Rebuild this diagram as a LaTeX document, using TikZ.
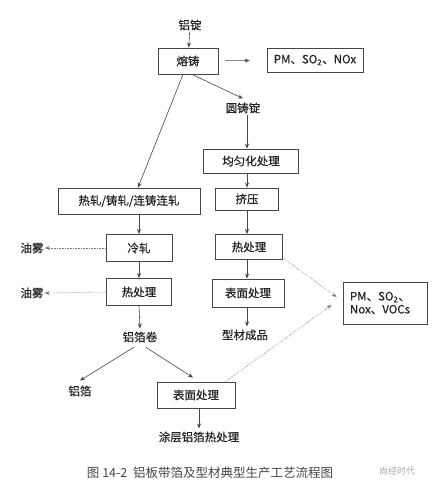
\documentclass[tikz,border=0pt]{standalone}
\usepackage{fontspec}
\setmainfont{Noto Sans CJK SC}
\newfontfamily\flowfont{Noto Sans CJK SC}[FakeBold=0.4]
\usetikzlibrary{arrows.meta,positioning,calc}
\definecolor{flowline}{RGB}{70,70,70}
\definecolor{flowtext}{RGB}{35,35,35}
\definecolor{capgray}{RGB}{70,70,70}
\tikzset{
  pbox/.style={rectangle, draw=flowline, line width=0.8pt, fill=white,
               inner sep=1pt, font=\flowfont\fontsize{11.5}{13}\selectfont, text=flowtext},
  plabel/.style={inner sep=1pt, font=\flowfont\fontsize{11.5}{13}\selectfont, text=flowtext},
  parr/.style={-{Stealth[length=5pt,width=4pt]}, line width=0.6pt, flowline},
  pdot/.style={-{Stealth[length=5pt,width=4pt]}, line width=0.6pt, flowline!70,
               densely dotted},
}
\begin{document}
\begin{tikzpicture}[x=1pt, y=-1pt]
  \useasboundingbox (0,0) rectangle (432,491);
  % top: casting
  \node[plabel] (ingot) at (190,25) {铝锭};
  \node[pbox, minimum width=60pt, minimum height=26pt] (melt) at (188,61) {熔铸};
  \node[pbox, minimum width=96pt, minimum height=24pt] (pm1) at (315,60) {PM、SO\textsubscript{2}、NOx};
  \node[plabel] (round) at (243,108) {圆铸锭};
  % right column: profiles
  \node[pbox, minimum width=95pt, minimum height=24pt] (homog) at (251,161) {均匀化处理};
  \node[pbox, minimum width=63pt, minimum height=22pt] (extr) at (247,199) {挤压};
  \node[pbox, minimum width=67pt, minimum height=25pt] (heatR) at (249,247) {热处理};
  \node[pbox, minimum width=72pt, minimum height=28pt] (surfR) at (248,293) {表面处理};
  \node[plabel] (profile) at (245,335) {型材成品};
  \node[pbox, minimum width=84pt, minimum height=42pt, text width=70pt, align=left] (pm2) at (385,303)
    {PM、SO\textsubscript{2}、\\Nox、VOCs};
  % left column: plate, strip, foil
  \node[pbox, minimum width=142pt, minimum height=26pt] (hotroll) at (129,201) {热轧/铸轧/连铸连轧};
  \node[pbox, minimum width=66pt, minimum height=27pt] (cold) at (139,248) {冷轧};
  \node[pbox, minimum width=65pt, minimum height=27pt] (heatL) at (139,292) {热处理};
  \node[plabel] (mist1) at (32,248) {油雾};
  \node[plabel] (mist2) at (32,293) {油雾};
  \node[plabel] (coil) at (140,337) {铝箔卷};
  \node[plabel] (foil) at (80,391) {铝箔};
  \node[pbox, minimum width=78pt, minimum height=26pt] (surfB) at (196,395) {表面处理};
  \node[plabel] (coated) at (199,437) {涂层铝箔热处理};
  % caption
  \node[inner sep=0pt, text=capgray, font=\fontsize{12.5}{14}\selectfont] (caption) at (210,473)
    {图 14-2\ \ 铝板带箔及型材典型生产工艺流程图};
  \node[inner sep=0pt, text=black!35, font=\fontsize{9}{10}\selectfont] (mark) at (397,471) {尚经时代};

  \draw[parr] (ingot) -- (melt);
  \draw[parr, shorten <=7pt, shorten >=17pt] (melt) -- (pm1);
  \draw[parr] ([xshift=-5pt]melt.south) -- ([xshift=9pt]hotroll.north);
  \draw[parr] ([xshift=4pt]melt.south) -- ([yshift=3pt]round.north);
  \draw[parr] ([xshift=4pt]round.south) -- ([xshift=4pt]round.south |- homog.north);
  \draw[parr] (extr.north |- homog.south) -- (extr.north);
  \draw[parr] (extr.south) -- (extr.south |- heatR.north);
  \draw[parr] (extr.south |- heatR.south) -- (extr.south |- surfR.north);
  \draw[parr] (extr.south |- surfR.south) -- ([yshift=2pt]extr.south |- profile.north);
  \draw[pdot] ([yshift=2pt]heatR.south east) -- ([xshift=-6pt,yshift=6pt]pm2.west);
  \draw[pdot] ([xshift=-10pt]surfB.north east) -- ([xshift=-11pt,yshift=-2pt]pm2.west);
  \draw[parr] (cold.north |- hotroll.south) -- (cold.north);
  \draw[parr] (cold) -- (heatL);
  \draw[parr] (heatL.south) -- ([yshift=2pt]coil.north);
  \draw[pdot] (cold.west) -- (mist1.east);
  \draw[pdot] (heatL.west) -- (mist2.east);
  \draw[parr, shorten <=7pt] (coil.south) -- ([yshift=4pt]foil.north);
  \draw[parr, shorten <=7pt] (coil.south) -- ([xshift=-3pt,yshift=4pt]surfB.north);
  \draw[parr] (surfB.south -| coated.north) -- ([yshift=2pt]coated.north);
\end{tikzpicture}
\end{document}
